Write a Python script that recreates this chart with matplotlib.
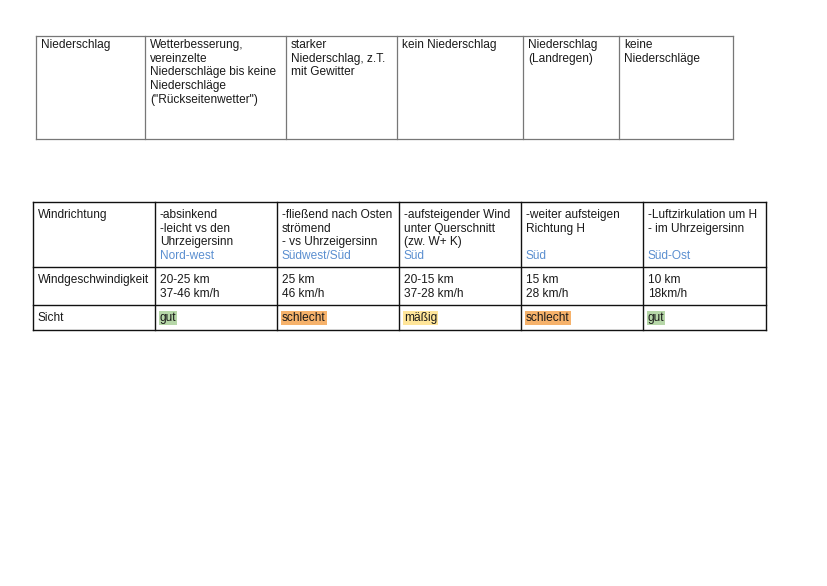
import matplotlib
matplotlib.use("Agg")
import matplotlib.pyplot as plt

# Table 1
t1_cells = ["Niederschlag",
            "Wetterbesserung,\nvereinzelte\nNiederschläge bis keine\nNiederschläge\n(\"Rückseitenwetter\")",
            "starker\nNiederschlag, z.T.\nmit Gewitter",
            "kein Niederschlag",
            "Niederschlag\n(Landregen)",
            "keine\nNiederschläge"]
t1_x = [36, 145, 286, 397, 523, 619, 733]
t1_y = [36, 139]

# Table 2
t2_labels = ["Windrichtung", "Windgeschwindigkeit", "Sicht"]
t2_dir_text = ["-absinkend\n-leicht vs den\nUhrzeigersinn",
               "-fließend nach Osten\nströmend\n- vs Uhrzeigersinn",
               "-aufsteigender Wind\nunter Querschnitt\n(zw. W+ K)",
               "-weiter aufsteigen\nRichtung H",
               "-Luftzirkulation um H\n- im Uhrzeigersinn"]
t2_dir_blue = ["Nord-west", "Südwest/Süd", "Süd", "Süd", "Süd-Ost"]
t2_speed = ["20-25 km\n37-46 km/h", "25 km\n46 km/h", "20-15 km\n37-28 km/h",
            "15 km\n28 km/h", "10 km\n18km/h"]
t2_sicht = ["gut", "schlecht", "mäßig", "schlecht", "gut"]
sicht_colors = {"gut": "#b6d7a8", "schlecht": "#f6b26b", "mäßig": "#ffe599"}
t2_x = [33, 155, 277, 399, 521, 643, 766]
t2_y = [202, 267, 305, 330]

fig = plt.figure(figsize=(8.28, 5.86), dpi=100)
ax = fig.add_axes([0, 0, 1, 1])
ax.set_xlim(0, 828)
ax.set_ylim(586, 0)
ax.axis("off")

FS = 8.6
LH = 13.6
font = "Liberation Sans"

def grid(xs, ys, color, lw):
    for x in xs:
        ax.plot([x, x], [ys[0], ys[-1]], color=color, lw=lw)
    for y in ys:
        ax.plot([xs[0], xs[-1]], [y, y], color=color, lw=lw)

def txt(x, y, s, color="#1a1a1a", bg=None):
    kw = {}
    if bg:
        kw["bbox"] = dict(facecolor=bg, edgecolor="none", pad=0.6)
    ax.text(x, y, s, fontsize=FS, family=font, color=color, va="top", ha="left",
            linespacing=1.19, **kw)

grid(t1_x, t1_y, "#777777", 0.9)
for i, s in enumerate(t1_cells):
    txt(t1_x[i] + 5, t1_y[0] + 3, s)

grid(t2_x, t2_y, "#111111", 1.0)
for r, lab in enumerate(t2_labels):
    txt(t2_x[0] + 5, t2_y[r] + 7, lab)
for i in range(5):
    x = t2_x[i + 1] + 5
    txt(x, t2_y[0] + 7, t2_dir_text[i])
    txt(x, t2_y[0] + 7 + LH * 3, t2_dir_blue[i], color="#5b8fd0")
    txt(x, t2_y[1] + 7, t2_speed[i])
    txt(x, t2_y[2] + 7, t2_sicht[i], bg=sicht_colors[t2_sicht[i]])

fig.savefig("out.png", dpi=100, facecolor="white")
